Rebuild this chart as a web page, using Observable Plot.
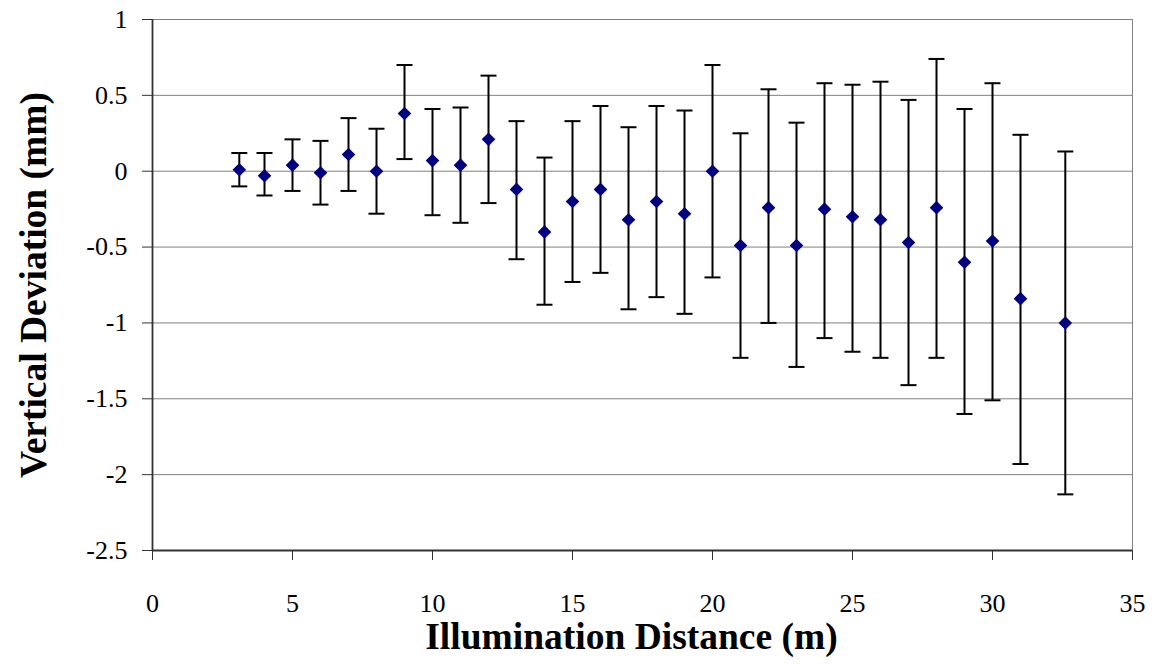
<!DOCTYPE html>
<html>
<head>
<meta charset="utf-8">
<script src="https://cdn.jsdelivr.net/npm/d3@7"></script>
<script src="https://cdn.jsdelivr.net/npm/@observablehq/plot@0.6"></script>
<style>
  html, body { margin: 0; padding: 0; background: #fff; }
  #chart svg text { font-family: "Liberation Serif", "Times New Roman", serif !important; }
  #chart g[aria-label$="tick label"] text { font-size: 26px !important; fill: #000; }
</style>
</head>
<body>
<div id="chart"></div>
<script>
// Illumination distance (m)
const distance = [3.1, 4, 5, 6, 7, 8, 9, 10, 11, 12, 13, 14, 15, 16, 17, 18, 19, 20, 21, 22, 23, 24, 25, 26, 27, 28, 29, 30, 31, 32.6];
// Mean vertical deviation (mm)
const deviation = [0.01, -0.03, 0.04, -0.01, 0.11, 0, 0.38, 0.07, 0.04, 0.21, -0.12, -0.4, -0.2, -0.12, -0.32, -0.2, -0.28, 0, -0.49, -0.24, -0.49, -0.25, -0.3, -0.32, -0.47, -0.24, -0.6, -0.46, -0.84, -1.0];
// Error bar upper ends (mm)
const upper = [0.12, 0.12, 0.21, 0.2, 0.35, 0.28, 0.7, 0.41, 0.42, 0.63, 0.33, 0.09, 0.33, 0.43, 0.29, 0.43, 0.4, 0.7, 0.25, 0.54, 0.32, 0.58, 0.57, 0.59, 0.47, 0.74, 0.41, 0.58, 0.24, 0.13];
// Error bar lower ends (mm)
const lower = [-0.1, -0.16, -0.13, -0.22, -0.13, -0.28, 0.08, -0.29, -0.34, -0.21, -0.58, -0.88, -0.73, -0.67, -0.91, -0.83, -0.94, -0.7, -1.23, -1.0, -1.29, -1.1, -1.19, -1.23, -1.41, -1.23, -1.6, -1.51, -1.93, -2.13];

const xTicks = [0, 5, 10, 15, 20, 25, 30, 35];
const yTicks = [-2.5, -2, -1.5, -1, -0.5, 0, 0.5, 1];
const xTitle = "Illumination Distance (m)";
const yTitle = "Vertical Deviation (mm)";

const data = distance.map((d, i) => ({x: d, y: deviation[i], hi: upper[i], lo: lower[i]}));

const serif = "Liberation Serif";

const diamond = {
  draw(ctx) {
    const r = 6.8;
    ctx.moveTo(0, -r); ctx.lineTo(r, 0); ctx.lineTo(0, r); ctx.lineTo(-r, 0); ctx.closePath();
  }
};
const cap = {
  draw(ctx) {
    ctx.moveTo(-8, 0); ctx.lineTo(8, 0);
  }
};

const chart = Plot.plot({
  width: 1153,
  height: 665,
  marginLeft: 152,
  marginRight: 21,
  marginTop: 19,
  marginBottom: 115,
  style: {fontFamily: serif, fontSize: "26px", background: "#fff", color: "#000"},
  x: {domain: [0, 35]},
  y: {domain: [-2.5, 1]},
  marks: [
    Plot.ruleY(yTicks.filter(v => v > -2.5), {stroke: "#808080", strokeWidth: 1}),
    Plot.ruleX([35], {stroke: "#808080", strokeWidth: 1}),
    Plot.axisX({ticks: xTicks, tickSize: 10, tickPadding: 33, stroke: "#333", label: null, tickFormat: d => String(d), fontSize: 26}),
    Plot.axisY({ticks: yTicks, tickSize: 10, tickPadding: 15, stroke: "#333", label: null, tickFormat: d => String(d), fontSize: 26}),
    Plot.ruleX([0], {stroke: "#333", strokeWidth: 1.8}),
    Plot.ruleY([-2.5], {stroke: "#333", strokeWidth: 1.8}),
    Plot.ruleX(data, {x: "x", y1: "lo", y2: "hi", stroke: "#000", strokeWidth: 2}),
    Plot.dot(data, {x: "x", y: "hi", symbol: cap, stroke: "#000", strokeWidth: 2, fill: "none"}),
    Plot.dot(data, {x: "x", y: "lo", symbol: cap, stroke: "#000", strokeWidth: 2, fill: "none"}),
    Plot.dot(data, {x: "x", y: "y", symbol: diamond, fill: "#000080", stroke: "none"}),
    Plot.text([xTitle], {frameAnchor: "bottom", text: d => d, dx: -11, dy: 86, fontSize: 37.5, fontWeight: "bold", textAnchor: "middle", lineAnchor: "middle"}),
    Plot.text([yTitle], {frameAnchor: "left", text: d => d, dx: -119, rotate: -90, fontSize: 37.5, fontWeight: "bold", textAnchor: "middle", lineAnchor: "middle"})
  ]
});
document.getElementById("chart").appendChild(chart);
</script>
</body>
</html>
